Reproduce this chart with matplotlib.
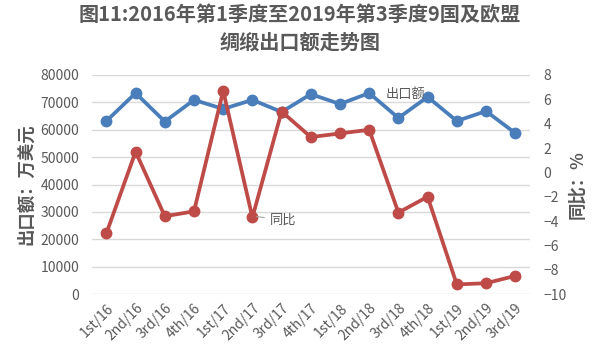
import numpy as np
import matplotlib.pyplot as plt

plt.rcParams['font.family'] = ['Noto Sans CJK SC', 'DejaVu Sans']

quarters = ['1st/16', '2nd/16', '3rd/16', '4th/16', '1st/17', '2nd/17', '3rd/17', '4th/17',
            '1st/18', '2nd/18', '3rd/18', '4th/18', '1st/19', '2nd/19', '3rd/19']
export_value = [63200, 73400, 63000, 70900, 67600, 70900, 66500, 73000,
                69400, 73400, 64300, 72000, 63200, 66800, 58800]
yoy = [-5.0, 1.7, -3.6, -3.2, 6.7, -3.7, 5.0, 2.9,
       3.2, 3.5, -3.3, -2.0, -9.2, -9.1, -8.5]

blue = '#4A7EBB'
red = '#BE4B48'
grey = '#595959'

fig = plt.figure(figsize=(6, 3.57), dpi=100)
ax = fig.add_axes([0.153, 0.176, 0.73, 0.614])
ax2 = ax.twinx()

x = np.arange(len(quarters))
ax.plot(x, export_value, color=blue, lw=2.7, marker='o', ms=7.5, zorder=3)
ax2.plot(x, yoy, color=red, lw=2.7, marker='o', ms=7.5, zorder=3)

ax.set_ylim(0, 80000)
ax.set_yticks(range(0, 80001, 10000))
ax2.set_ylim(-10, 8)
ax2.set_yticks(range(-10, 9, 2))
ax.set_xlim(-0.5, len(quarters) - 0.5)
ax.set_xticks(x)
ax.set_xticklabels(quarters, rotation=45, ha='right', rotation_mode='anchor')

ax.grid(axis='y', color='#D9D9D9', lw=1)
ax.set_axisbelow(True)
for a in (ax, ax2):
    for s in a.spines.values():
        s.set_visible(False)
    a.tick_params(length=0, labelsize=10, colors=grey)
ax.tick_params(axis='y', pad=9)
ax2.tick_params(axis='y', pad=10)
ax.tick_params(axis='x', pad=5)

ax.set_ylabel('出口额：万美元', fontsize=12.5, color=grey, fontweight='bold', labelpad=4)
ax2.set_ylabel('同比：%', fontsize=12.5, color=grey, fontweight='bold', rotation=90, labelpad=1)

ax.text(9.55, 73000, '出口额', fontsize=9.5, color=grey, va='center')
ax2.annotate('同比', xy=(5.05, -3.6), xytext=(5.6, -3.9), fontsize=9.5, color=grey, va='center',
             arrowprops=dict(arrowstyle='-', color='#A6A6A6', lw=0.8))

fig.suptitle('图11:2016年第1季度至2019年第3季度9国及欧盟\n绸缎出口额走势图', x=0.5, y=0.99,
             fontsize=14.5, fontweight='bold', color=grey, linespacing=1.4)

fig.savefig('out.png', dpi=100)
